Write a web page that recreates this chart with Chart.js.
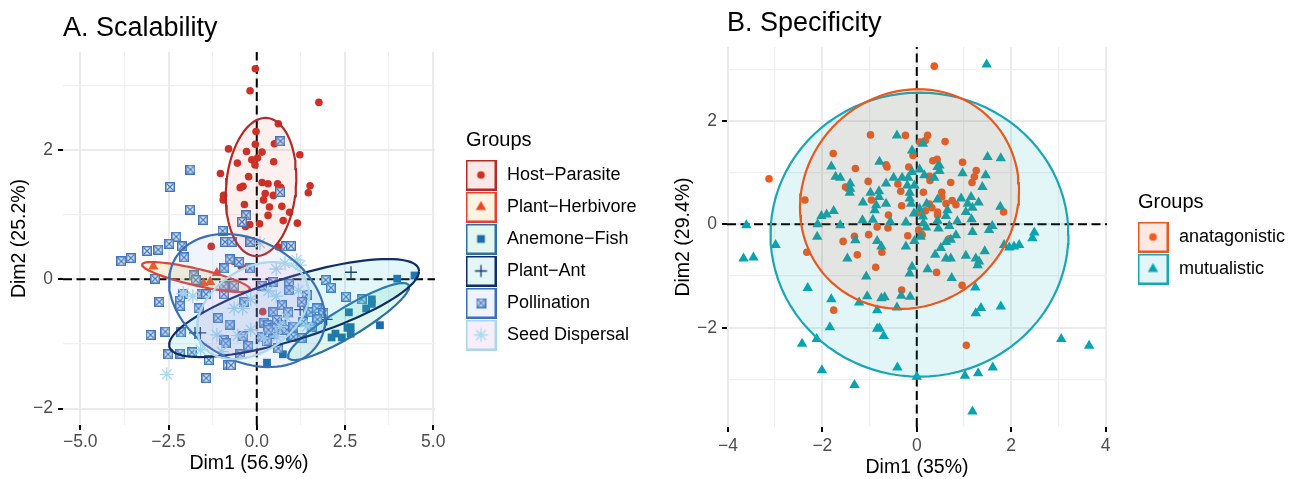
<!DOCTYPE html>
<html>
<head>
<meta charset="utf-8">
<title>Scalability and Specificity</title>
<script src="https://cdn.jsdelivr.net/npm/chart.js@4"></script>
<style>
  html, body { margin: 0; background: #ffffff; }
  #wrap { position: relative; width: 1303px; height: 479px; overflow: hidden; }
  canvas { position: absolute; top: 0; }
  #panelA { left: 0; }
  #panelB { left: 660px; }
</style>
</head>
<body>
<div id="wrap">
  <canvas id="panelA" width="660" height="479"></canvas>
  <canvas id="panelB" width="643" height="479"></canvas>
</div>
<script>
// ===========================
// Panel A data ([Dim1, Dim2])
// ===========================

const hostParasite = [
  [-0.04,3.26],[-0.19,2.92],[1.76,2.74],[0.61,2.41],[-0.02,2.29],[-0.04,2.09],[0.50,2.10],[-0.80,2.02],
  [-0.29,1.98],[0.15,1.97],[1.22,1.93],[0.02,1.88],[-0.14,1.85],[-0.55,1.80],[-0.05,1.77],[0.48,1.82],
  [-1.03,1.64],[-0.23,1.59],[0.15,1.50],[0.32,1.48],[0.59,1.48],[0.68,1.42],[1.51,1.45],[1.46,1.34],
  [-0.47,1.42],[-0.39,1.44],[0.24,1.33],[-0.94,1.30],[-0.95,1.23],[0.19,1.23],[0.47,1.30],[-0.35,1.16],
  [0.36,1.12],[0.71,1.13],[0.32,0.99],[0.93,1.04],[0.75,0.91],[1.15,0.87],[0.08,0.86],[-0.20,0.85],
  [-0.32,0.82],[0.61,0.50],[-1.29,0.51],[0.17,-0.50],[-0.44,0.20],[-0.66,0.28]
];
const plantHerbivore = [[-2.93,0.20],[-1.51,-0.06],[-1.13,0.10],[-1.32,-0.04]];
const anemoneFish = [
  [4.47,0.06],[3.98,0.01],[3.26,-0.31],[3.26,-0.38],[3.10,-0.45],[2.61,-0.51],[3.49,-0.71],[2.66,-0.74],
  [2.57,-0.75],[2.66,-0.84],[2.23,-0.84],[2.41,-0.90],[2.12,-0.90],[0.74,-1.16],[0.29,-1.29],[0.94,-0.89],
  [0.66,-0.76],[0.42,-0.73]
];
const plantAnt = [[2.67,0.11],[-1.75,-0.83],[-1.6,-0.83],[1.98,-0.62],[1.23,-0.47]];
const pollination = [
  [0.67,2.14],[0.66,1.35],[-1.88,1.70],[-2.46,1.43],[-1.89,1.08],[-1.52,0.92],[-0.30,0.99],[-0.42,0.89],
  [-0.97,0.75],[-2.28,0.66],[-2.48,0.55],[-0.90,0.58],[-0.71,0.58],[-0.18,0.58],[-2.12,0.51],[-2.79,0.46],
  [-3.11,0.44],[0.83,0.51],[0.97,0.52],[-3.84,0.28],[-3.57,0.33],[-2.06,0.34],[-0.77,0.31],[-0.50,0.27],
  [-0.92,0.17],[-0.19,0.17],[-2.88,0.01],[-1.79,0.06],[-1.73,-0.01],[0.14,-0.10],[0.47,-0.04],[0.92,-0.07],
  [0.92,-0.17],[1.95,-0.01],[2.10,-0.13],[-2.76,-0.35],[-2.08,-0.22],[-2.17,-0.33],[-2.17,-0.41],[-1.65,-0.45],
  [-1.56,-0.22],[-1.44,-0.23],[-0.94,-0.11],[-0.64,-0.10],[-0.93,-0.23],[-0.35,-0.35],[0.47,-0.51],[0.71,-0.40],
  [0.89,-0.51],[0.21,-0.67],[0.33,-0.71],[-1.09,-0.60],[-0.77,-0.70],[1.42,-0.24],[1.27,-0.35],[1.46,-0.50],
  [1.53,-0.51],[1.70,-0.45],[1.89,-0.52],[1.72,-0.62],[1.32,-0.66],[2.53,-0.27],[2.97,-0.31],[-3.01,-0.86],
  [-2.59,-0.81],[-2.15,-0.82],[-0.93,-0.94],[-0.88,-0.99],[-0.38,-0.88],[-0.24,-1.03],[0.14,-0.90],[0.28,-0.95],
  [0.57,-0.73],[0.66,-0.78],[0.47,-0.84],[0.61,-1.07],[1.04,-0.89],[1.27,-0.91],[-2.51,-1.16],[-2.17,-1.15],
  [-1.84,-1.13],[-0.47,-1.16],[-1.36,-1.25],[-0.82,-1.33],[-0.73,-1.33],[-1.43,-1.53],[0.57,-0.63],[0.71,-0.71],
  [0.47,-0.76],[0.33,-0.78],[0.85,-0.78],[1.56,-0.73],[1.04,-0.73]
];
const seedDispersal = [
  [-2.55,-1.47],[-1.59,-1.09],[-1.81,-0.26],[-2.08,-0.22],[0.55,0.16],[0.80,0.25],[1.13,0.30],[1.23,0.22],
  [0.33,-0.18],[0.55,-0.26],[1.18,-0.17],[-0.17,-0.31],[-0.64,-0.45],[-0.40,-0.45],[0.85,-0.59],[1.42,-0.73],
  [-0.17,-0.78],[-1.13,-0.86],[-0.54,-0.87],[-0.99,-1.12],[0.19,-0.91],[0.57,-0.89],[0.66,-0.73],[0.09,0.56]
];

// ===========================
// Panel B data ([Dim1, Dim2])
// ===========================

const anatagonistic = [
  [0.37,3.06],[-0.98,1.73],[-0.24,1.72],[0.23,1.72],[0.18,1.62],[0.07,1.59],[0.60,1.60],[-1.77,1.37],
  [-0.08,1.33],[0.34,1.23],[0.43,1.26],[0.97,1.20],[-1.30,1.08],[-0.65,1.15],[-0.63,1.11],[-0.17,1.11],
  [-3.13,0.88],[1.26,1.04],[1.22,0.92],[1.17,0.81],[-1.03,0.83],[-1.51,0.72],[-0.40,0.78],[0.27,0.93],
  [0.28,0.85],[0.72,0.81],[-0.34,0.64],[0.14,0.62],[0.53,0.62],[0.53,0.53],[-2.37,0.47],[-0.96,0.47],
  [-0.32,0.36],[0.27,0.39],[0.32,0.32],[0.62,0.40],[0.75,0.46],[0.83,0.38],[1.84,0.24],[0.44,0.24],
  [0.18,0.26],[0.06,0.23],[0.44,0.18],[-0.60,0.18],[-0.84,-0.05],[-0.61,-0.07],[-1.02,-0.20],[-1.32,-0.23],
  [-1.56,-0.33],[-0.19,-0.22],[0.04,-0.11],[0.11,-0.20],[-2.33,-0.54],[-1.26,-0.59],[-0.74,-0.54],[-0.87,-0.83],
  [0.42,-0.93],[0.96,-1.18],[-0.32,-1.27],[-1.76,-1.66],[1.05,-2.34],[0.69,-0.28],[0.11,-0.21]
];
const mutualistic = [
  [1.48,3.09],[-0.42,1.72],[0.13,1.56],[-0.10,1.43],[1.50,1.30],[1.78,1.28],[-0.79,1.21],[-1.81,1.12],
  [0.48,1.14],[0.44,1.11],[0.48,1.03],[0.06,1.06],[-0.10,1.01],[0.97,0.99],[1.46,0.95],[-1.72,0.92],
  [-1.62,0.90],[-0.49,0.90],[-0.31,0.90],[-0.18,0.90],[0.16,0.95],[0.37,0.90],[-1.41,0.79],[-1.41,0.69],
  [-1.42,0.61],[-0.65,0.79],[1.39,0.72],[-0.05,0.75],[-0.20,0.75],[-0.98,0.61],[-0.80,0.64],[-0.80,0.53],
  [-0.15,0.61],[-0.15,0.50],[-0.12,0.40],[-1.14,0.42],[-0.65,0.40],[-0.86,0.37],[-0.89,0.27],[0.44,0.48],
  [0.94,0.50],[1.15,0.53],[1.31,0.42],[1.08,0.40],[1.18,0.32],[1.04,0.24],[1.77,0.34],[0.21,0.40],
  [0.06,0.30],[-0.06,0.21],[0.65,0.27],[0.62,0.16],[-1.76,0.26],[-1.91,0.19],[-2.02,0.16],[-2.10,0.00],
  [-1.62,-0.02],[-3.61,-0.02],[-1.15,0.08],[-0.93,0.09],[-0.56,0.05],[-0.23,0.04],[0.13,0.15],[0.14,0.02],
  [0.20,-0.06],[0.44,0.07],[0.46,-0.08],[0.86,0.06],[1.16,0.10],[0.69,-0.03],[1.18,-0.15],[1.60,-0.03],
  [1.53,-0.11],[2.49,-0.16],[2.45,-0.27],[-2.11,-0.24],[-1.30,-0.31],[-2.99,-0.40],[-0.84,-0.32],[-0.23,-0.43],
  [-0.05,-0.32],[0.08,-0.24],[0.83,-0.21],[0.72,-0.30],[0.62,-0.34],[1.85,-0.40],[1.96,-0.45],[2.06,-0.43],
  [2.17,-0.40],[-3.67,-0.66],[-3.46,-0.64],[-0.75,-0.43],[-1.47,-0.66],[0.39,-0.59],[0.51,-0.46],[1.04,-0.61],
  [0.62,-0.66],[0.72,-0.66],[1.44,-0.52],[1.25,-0.66],[1.32,-0.72],[1.29,-0.79],[-0.10,-0.82],[-0.15,-0.95],
  [0.23,-0.87],[-1.07,-1.01],[0.74,-1.04],[-2.31,-1.23],[1.24,-1.22],[-1.05,-1.39],[-0.75,-1.43],[-0.68,-1.41],
  [-0.33,-1.38],[-0.14,-1.40],[-1.81,-1.45],[-1.22,-1.51],[-0.42,-1.61],[-0.84,-1.66],[1.36,-1.62],[1.25,-1.72],
  [1.78,-1.59],[-1.84,-1.99],[-0.84,-2.02],[-0.79,-2.01],[-0.70,-2.16],[-2.12,-2.22],[-2.43,-2.31],[3.06,-2.22],
  [3.65,-2.35],[-0.41,-2.77],[-2.01,-2.82],[0.00,-2.95],[1.02,-2.93],[1.30,-2.88],[1.61,-2.77],[-1.32,-3.11],
  [1.18,-3.62]
];

// ===========================
// Labels, ticks, ellipses
// ===========================

const groupsA = ["Host−Parasite", "Plant−Herbivore", "Anemone−Fish", "Plant−Ant", "Pollination", "Seed Dispersal"];
const groupsB = ["anatagonistic", "mutualistic"];

const xTicksA = [-5, -3.75, -2.5, -1.25, 0, 1.25, 2.5, 3.75, 5];
const xLabelsA = ["−5.0", "", "−2.5", "", "0.0", "", "2.5", "", "5.0"];
const yTicksA = [-2, -1, 0, 1, 2, 3];
const yLabelsA = ["−2", "", "0", "", "2", ""];
const xTicksB = [-4, -3, -2, -1, 0, 1, 2, 3, 4];
const xLabelsB = ["−4", "", "−2", "", "0", "", "2", "", "4"];
const yTicksB = [-3, -2, -1, 0, 1, 2, 3];
const yLabelsB = ["", "−2", "", "0", "", "2", ""];

// ellipse centre, half extents and correlation, one entry per group
const ellipseCxA = [0.12, -1.72, 2.6, 1.057, -0.275, -0.105];
const ellipseCyA = [1.43, 0.036, -0.653, -0.444, -0.328, -0.483];
const ellipseRxA = [1.0, 1.53, 1.714, 3.54, 2.21, 1.586];
const ellipseRyA = [1.07, 0.232, 0.596, 0.759, 1.03, 0.751];
const ellipseRhoA = [0.13, -0.82, 0.9, 0.75, -0.28, 0.35];
const ellipseCxB = [-0.154, 0.057];
const ellipseCyB = [0.489, -0.2];
const ellipseRxB = [2.32, 3.156];
const ellipseRyB = [2.125, 2.747];
const ellipseRhoB = [0.08, 0];

const FONT = "'Liberation Sans', Arial, sans-serif";

const pairs = (list) => list.map((p) => ({ x: p[0], y: p[1] }));

function ellipsePoints(cx, cy, rx, ry, rho) {
  const out = [];
  const s = Math.sqrt(1 - rho * rho);
  for (let i = 0; i <= 96; i++) {
    const t = (i / 96) * 2 * Math.PI;
    out.push({
      x: cx + rx * Math.cos(t),
      y: cy + ry * (rho * Math.cos(t) + s * Math.sin(t)),
    });
  }
  return out;
}

// crossed square used for the Pollination group
function crossedSquare() {
  const c = document.createElement("canvas");
  c.width = 10;
  c.height = 10;
  const g = c.getContext("2d");
  g.fillStyle = "#3f75bb";
  g.fillRect(0, 0, 10, 10);
  g.fillStyle = "#e2ebf7";
  g.fillRect(1.5, 1.5, 7, 7);
  g.strokeStyle = "#3f75bb";
  g.lineWidth = 1.1;
  g.beginPath();
  g.moveTo(2, 2);
  g.lineTo(8, 8);
  g.moveTo(8, 2);
  g.lineTo(2, 8);
  g.stroke();
  return c;
}

// legend key: outlined box, pale fill, group marker in the middle
function legendKey(s) {
  const c = document.createElement("canvas");
  c.width = 31;
  c.height = 31;
  const g = c.getContext("2d");
  g.fillStyle = s.key;
  g.fillRect(1, 1, 29, 29);
  g.strokeStyle = s.line;
  g.lineWidth = 2;
  g.strokeRect(1, 1, 29, 29);
  g.fillStyle = s.color;
  g.strokeStyle = s.color;
  g.lineWidth = s.width;
  Chart.helpers.drawPoint(g, { pointStyle: s.marker, radius: s.radius, rotation: 0, borderWidth: s.width }, 15.5, 15.5);
  return c;
}

const stylesA = [
  { data: hostParasite, marker: "circle", radius: 3.8, width: 0, color: "#cd2f26", line: "#b52a25", fill: "rgba(220,60,50,0.08)", key: "#fbe9e7" },
  { data: plantHerbivore, marker: "triangle", radius: 6, width: 0, color: "#ec4426", line: "#e6412f", fill: "rgba(232,190,70,0.2)", key: "#fcf4e1" },
  { data: anemoneFish, marker: "rect", radius: 5.5, width: 0, color: "#1a6cab", line: "#2a72a6", fill: "rgba(70,205,150,0.16)", key: "#e5f6ee" },
  { data: plantAnt, marker: "cross", radius: 6, width: 1.3, color: "#12356e", line: "#0f2d66", fill: "rgba(60,200,220,0.14)", key: "#e5f6f9" },
  { data: pollination, marker: crossedSquare(), radius: 5, width: 0, color: "#3f75bb", line: "#3b6fb5", fill: "rgba(100,150,240,0.1)", key: "#eef3fd" },
  { data: seedDispersal, marker: "star", radius: 7, width: 1.3, color: "#a9d9eb", line: "#a8d8ea", fill: "rgba(225,130,240,0.1)", key: "#f8eefb" },
];
const stylesB = [
  { data: anatagonistic, marker: "circle", radius: 3.8, width: 0, color: "#f7571a", line: "#e8591f", fill: "rgba(225,90,30,0.1)", key: "#fde9e2" },
  { data: mutualistic, marker: "triangle", radius: 6, width: 0, color: "#05a4b0", line: "#17a7b5", fill: "rgba(20,170,190,0.12)", key: "#e2f5f8" },
];

// legend sits to the right of the plot, moved there once layout is done
const placeLegend = {
  id: "placeLegend",
  beforeDraw(chart, args, opts) {
    const legend = chart.legend;
    legend.left = opts.left;
    legend.top = opts.top;
    legend.right = chart.width;
    legend.bottom = chart.height;
    // the title starts at the legend edge, the keys one padding further in
    const drawTitle = legend.drawTitle;
    legend.drawTitle = function () {
      this.left = opts.left + opts.titleShift;
      drawTitle.call(this);
      this.left = opts.left;
    };
  },
};

function makePanel(id, cfg) {
  const datasets = [];

  // dashed zero lines go under the points
  datasets.push({
    data: [{ x: cfg.xRange[0], y: 0 }, { x: cfg.xRange[1], y: 0 }],
    showLine: true, borderColor: "#000000", borderWidth: 2, borderDash: [9, 4.5], pointRadius: 0, order: 100,
  });
  datasets.push({
    data: [{ x: 0, y: cfg.yRange[0] }, { x: 0, y: cfg.yRange[1] }],
    showLine: true, borderColor: "#000000", borderWidth: 2, borderDash: [9, 4.5], pointRadius: 0, order: 100,
  });

  cfg.styles.forEach((s, i) => {
    datasets.push({
      label: cfg.groups[i],
      data: pairs(s.data),
      pointStyle: s.marker,
      pointRadius: s.radius,
      pointBorderWidth: s.width,
      pointBackgroundColor: s.color,
      pointBorderColor: s.color,
      order: 50 - i,
    });
    datasets.push({
      data: ellipsePoints(cfg.cx[i], cfg.cy[i], cfg.rx[i], cfg.ry[i], cfg.rho[i]),
      showLine: true,
      borderColor: s.line,
      borderWidth: 2.2,
      backgroundColor: s.fill,
      fill: "shape",
      pointRadius: 0,
      order: cfg.firstOnTop ? 20 + i : 20 - i,
    });
  });

  const isMajor = (labels, i) => labels[i] !== "";
  const gridFor = (labels) => ({
    color: (c) => (isMajor(labels, c.index) ? "#ebebeb" : "#f0f0f0"),
    lineWidth: (c) => (isMajor(labels, c.index) ? 2 : 1.3),
    tickColor: (c) => (isMajor(labels, c.index) ? "#000000" : "rgba(0,0,0,0)"),
    tickWidth: 2,
    tickLength: 5,
  });
  const tickFont = { family: FONT, size: 17.5 };

  return new Chart(document.getElementById(id), {
    type: "scatter",
    data: { datasets },
    plugins: [placeLegend],
    options: {
      responsive: false,
      animation: false,
      layout: { padding: { right: cfg.padRight, top: 0, bottom: 0, left: 0 } },
      scales: {
        x: {
          type: "linear",
          min: cfg.xRange[0],
          max: cfg.xRange[1],
          afterBuildTicks: (scale) => { scale.ticks = cfg.xTicks.map((v) => ({ value: v })); },
          afterFit: (scale) => { scale.height = cfg.xHeight; },
          border: { display: false },
          grid: gridFor(cfg.xLabels),
          ticks: {
            autoSkip: false, maxRotation: 0, color: "#4d4d4d", font: tickFont, padding: cfg.xTickPad,
            callback: (v, i) => cfg.xLabels[i],
          },
          title: { display: true, text: cfg.xTitle, color: "#000000", font: { family: FONT, size: 19.5 }, padding: { top: 0, bottom: cfg.xTitlePad } },
        },
        y: {
          type: "linear",
          min: cfg.yRange[0],
          max: cfg.yRange[1],
          afterBuildTicks: (scale) => { scale.ticks = cfg.yTicks.map((v) => ({ value: v })); },
          afterFit: (scale) => { scale.width = cfg.yWidth; },
          border: { display: false },
          grid: gridFor(cfg.yLabels),
          ticks: {
            autoSkip: false, color: "#4d4d4d", font: tickFont, padding: 5,
            callback: (v, i) => cfg.yLabels[i],
          },
          title: { display: true, text: cfg.yTitle, color: "#000000", font: { family: FONT, size: 19.5 }, padding: { top: cfg.yTitlePad, bottom: 0 } },
        },
      },
      plugins: {
        tooltip: { enabled: false },
        title: {
          display: true,
          text: cfg.title,
          align: "start",
          fullSize: false,
          color: "#000000",
          font: { family: FONT, size: 27, weight: "normal" },
          padding: { top: cfg.titleTop, bottom: cfg.titleBottom },
        },
        placeLegend: { left: cfg.legendLeft, top: cfg.legendTop, titleShift: 16 },
        legend: {
          display: true,
          position: "chartArea",
          align: "start",
          title: { display: true, text: "Groups", position: "start", color: "#000000", font: { family: FONT, size: 20 }, padding: { top: 2, bottom: -2 } },
          labels: {
            usePointStyle: true,
            pointStyleWidth: 34,
            padding: 14,
            color: "#000000",
            font: { family: FONT, size: 18 },
            generateLabels: () => cfg.styles.map((s, i) => ({
              text: cfg.groups[i],
              pointStyle: legendKey(s),
              fontColor: "#000000",
              lineWidth: 0,
              hidden: false,
            })),
          },
        },
      },
    },
  });
}

// ===========================
// Create Charts
// ===========================

makePanel("panelA", {
  styles: stylesA, groups: groupsA, title: "A. Scalability",
  xTitle: "Dim1 (56.9%)", yTitle: "Dim2 (25.2%)",
  xRange: [-5.49, 5.05], yRange: [-2.255, 3.52],
  xTicks: xTicksA, xLabels: xLabelsA, yTicks: yTicksA, yLabels: yLabelsA,
  cx: ellipseCxA, cy: ellipseCyA, rx: ellipseRxA, ry: ellipseRyA, rho: ellipseRhoA,
  padRight: 225, xHeight: 54, yWidth: 63, xTickPad: 2, xTitlePad: 4, yTitlePad: 8,
  titleTop: 12.5, titleBottom: 7.1, legendLeft: 450, legendTop: 128, firstOnTop: false,
});

makePanel("panelB", {
  styles: stylesB, groups: groupsB, title: "B. Specificity",
  xTitle: "Dim1 (35%)", yTitle: "Dim2 (29.4%)",
  xRange: [-4.02, 4.03], yRange: [-3.92, 3.43],
  xTicks: xTicksB, xLabels: xLabelsB, yTicks: yTicksB, yLabels: yLabelsB,
  cx: ellipseCxB, cy: ellipseCyB, rx: ellipseRxB, ry: ellipseRyB, rho: ellipseRhoB,
  padRight: 196, xHeight: 52, yWidth: 67, xTickPad: 4, xTitlePad: 0, yTitlePad: 12,
  titleTop: 7, titleBottom: 7.6, legendLeft: 462, legendTop: 190, firstOnTop: true,
});
</script>
</body>
</html>
